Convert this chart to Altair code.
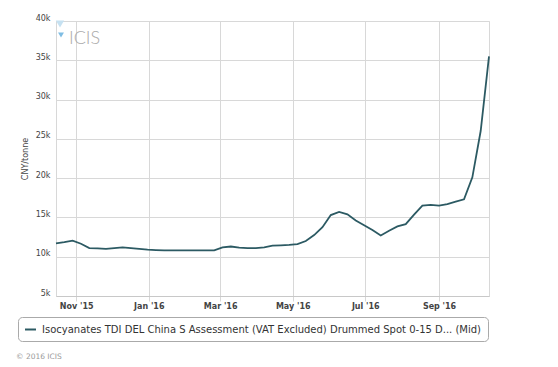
import altair as alt
import pandas as pd

series_name = "Isocyanates TDI DEL China S Assessment (VAT Excluded) Drummed Spot 0-15 D... (Mid)"
start_date = "2015-10-15"
values = [
    11700, 11850, 12050, 11650, 11100, 11050, 11000, 11100, 11200, 11100,
    11000, 10900, 10850, 10800, 10800, 10800, 10800, 10800, 10800, 10800,
    11200, 11300, 11150, 11100, 11100, 11200, 11400, 11450, 11500, 11600,
    12000, 12750, 13750, 15300, 15700, 15400, 14600, 14000, 13400, 12700,
    13300, 13850, 14150, 15350, 16500, 16600, 16500, 16700, 17000, 17300,
    20100, 26000, 35500,
]
x_ticks = ["2015-11-01", "2016-01-01", "2016-03-01", "2016-05-01", "2016-07-01", "2016-09-01"]
y_ticks = [5000, 10000, 15000, 20000, 25000, 30000, 35000, 40000]
footer = ["© 2016 ICIS"]
logo = ["ICIS"]

dates = pd.date_range(start_date, periods=len(values), freq="7D")
df = pd.DataFrame({"date": dates, "value": values, "series": series_name})

FONT = "DejaVu Sans"
GRID = "#d8d8d8"

line = alt.Chart(df).mark_line(strokeWidth=1.8).encode(
    x=alt.X(
        "date:T",
        scale=alt.Scale(domain=[dates[0].isoformat(), dates[-1].isoformat()]),
        axis=alt.Axis(
            title=None,
            values=[pd.Timestamp(t).isoformat() for t in x_ticks],
            format="%b '%y",
            labelFont=FONT,
            labelFontSize=8,
            labelFontWeight="bold",
            labelColor="#444",
            tickSize=5,
            tickColor=GRID,
            labelPadding=1,
            gridColor=GRID,
            domainColor="#c8c8c8",
        ),
    ),
    y=alt.Y(
        "value:Q",
        scale=alt.Scale(domain=[5000, 40000], nice=False),
        axis=alt.Axis(
            title="CNY/tonne",
            values=y_ticks,
            format="~s",
            labelFont=FONT,
            labelFontSize=8,
            labelColor="#444",
            labelOffset=-3,
            labelPadding=6,
            ticks=False,
            domain=False,
            gridColor=GRID,
            titleFont=FONT,
            titleFontSize=8,
            titleFontWeight="normal",
            titleColor="#444",
            titlePadding=6,
        ),
    ),
    color=alt.Color(
        "series:N",
        scale=alt.Scale(range=["#2c5a63"]),
        legend=alt.Legend(
            title=None,
            orient="none",
            legendX=-38,
            legendY=296,
            direction="horizontal",
            symbolType="stroke",
            symbolSize=120,
            symbolStrokeWidth=2,
            labelFont=FONT,
            labelFontSize=10,
            labelColor="#333",
            labelLimit=800,
            labelOffset=5,
            strokeColor="#aaaaaa",
            fillColor="white",
            cornerRadius=4,
            padding=6,
        ),
    ),
)

logo_text = alt.Chart(pd.DataFrame({"t": logo})).mark_text(
    align="left", baseline="middle", font="Lato", fontSize=18, fontWeight=300, color="#aaaaaa"
).encode(text="t:N", x=alt.value(13), y=alt.value(18))

logo_tri1 = alt.Chart(pd.DataFrame({"t": logo})).mark_point(
    shape="triangle-down", filled=True, size=70, color="#c6e1f1", opacity=1
).encode(x=alt.value(4), y=alt.value(3))

logo_tri2 = alt.Chart(pd.DataFrame({"t": logo})).mark_point(
    shape="triangle-down", filled=True, size=35, color="#7fbde3", opacity=1
).encode(x=alt.value(5), y=alt.value(14))

footer_text = alt.Chart(pd.DataFrame({"t": footer})).mark_text(
    align="left", baseline="middle", font=FONT, fontSize=7.5, color="#999999"
).encode(text="t:N", x=alt.value(-40), y=alt.value(336))

chart = (
    alt.layer(line, logo_tri1, logo_tri2, logo_text, footer_text)
    .properties(
        width=433,
        height=275,
        autosize=alt.AutoSizeParams(type="none"),
        padding={"left": 48, "top": 13, "right": 60, "bottom": 70},
        background="white",
    )
    .configure_view(stroke=GRID)
)

chart.save("out.html", embed_options={"renderer": "svg", "actions": False})
